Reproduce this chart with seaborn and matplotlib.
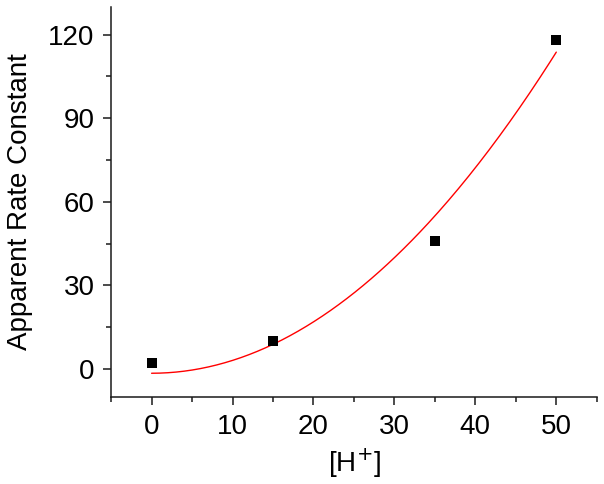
import numpy as np
import pandas as pd
import matplotlib
matplotlib.use("Agg")
import matplotlib.pyplot as plt
import seaborn as sns
from matplotlib.ticker import MultipleLocator

# Data
h_conc = [0, 15, 35, 50]
rate_const = [2, 10, 46, 118]
x_ticks = [0, 10, 20, 30, 40, 50]
y_ticks = [0, 30, 60, 90, 120]

sns.set_theme(style="ticks")
plt.rcParams['font.family'] = ['Liberation Sans', 'DejaVu Sans']

df = pd.DataFrame({"H": h_conc, "k": rate_const})

# fitted curve: k = a + c*[H+]^2 (least squares on the data)
c, a = np.polyfit(np.array(h_conc, float) ** 2, np.array(rate_const, float), 1)
xf = np.linspace(min(h_conc), max(h_conc), 200)
fit_df = pd.DataFrame({"H": xf, "k": a + c * xf ** 2})

fig = plt.figure(figsize=(6.04, 4.84), dpi=100)
ax = fig.add_axes([0.184, 0.180, 0.804, 0.806])

sns.lineplot(data=fit_df, x="H", y="k", color="red", linewidth=1.0, ax=ax, zorder=2)
sns.scatterplot(data=df, x="H", y="k", marker="s", color="black", s=60,
                edgecolor="black", linewidth=0, ax=ax, zorder=3)

ax.set_xlim(-5, 55)
ax.set_ylim(-10, 130)
ax.set_xticks(x_ticks)
ax.set_yticks(y_ticks)
ax.xaxis.set_minor_locator(MultipleLocator(5))
ax.yaxis.set_minor_locator(MultipleLocator(15))
for s in ["top", "right"]:
    ax.spines[s].set_visible(False)
for s in ["left", "bottom"]:
    ax.spines[s].set_linewidth(1.1)
    ax.spines[s].set_color("#1a1a1a")
ax.tick_params(which="major", length=6, width=1.1, labelsize=20, color="#1a1a1a",
               labelcolor="black", pad=6)
ax.tick_params(which="minor", length=3.4, width=1.1, color="#1a1a1a")
ax.set_xlabel("[H$^{+}$]", fontsize=20, labelpad=5, color="black")
ax.set_ylabel("Apparent Rate Constant", fontsize=20, labelpad=11, color="black")

fig.savefig("out.png", dpi=100)
